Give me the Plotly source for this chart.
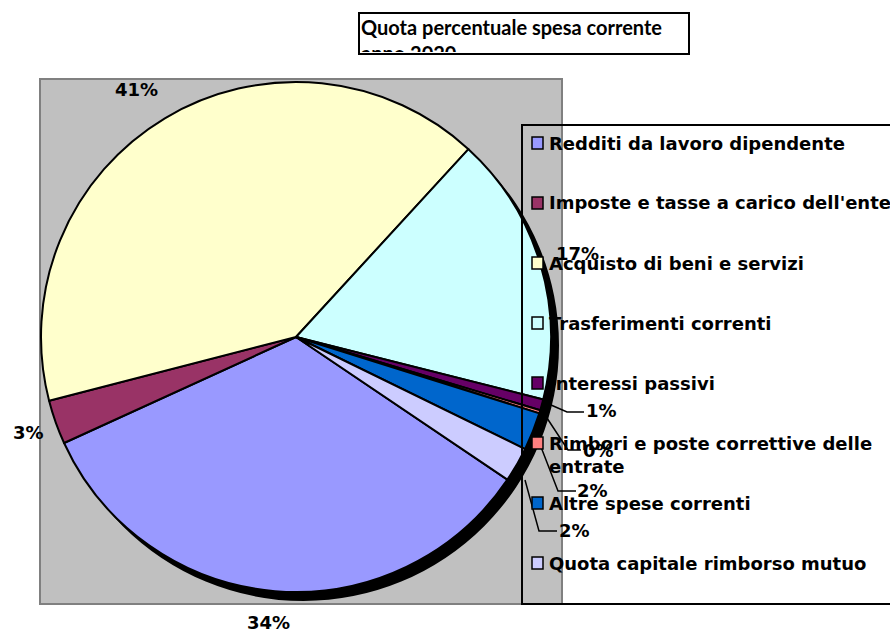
import plotly.graph_objects as go

labels = ["Redditi da lavoro dipendente", "Imposte e tasse a carico dell'ente",
          "Acquisto di beni e servizi", "Trasferimenti correnti", "Interessi passivi",
          "Rimbori e poste correttive delle entrate", "Altre spese correnti",
          "Quota capitale rimborso mutuo"]
legend_text = ["Redditi da lavoro dipendente", "Imposte e tasse a carico dell'ente",
               "Acquisto di beni e servizi", "Trasferimenti correnti", "Interessi passivi",
               "Rimbori e poste correttive delle<br>entrate", "Altre spese correnti",
               "Quota capitale rimborso mutuo"]
values = [33.7, 2.8, 40.8, 17.1, 0.7, 0.2, 2.4, 2.2]
colors = ["#9999FF", "#993366", "#FFFFCC", "#CCFFFF", "#660066", "#FF8080", "#0066CC", "#CCCCFF"]
title_text = "Quota percentuale spesa corrente<br>anno 2020"

# ---- layout helpers ----
W, H = 890, 632
def px(x):
    return x / W
def py(y):
    return 1 - y / H

FONT = "DejaVu Sans, Arial, sans-serif"

# data-label placement (pixel centres) and leader-line elbows (None = no line)
label_pos = [(268, 622), (28, 432), (136, 90), (577, 254), (601, 410), (598, 450), (592, 490), (574, 530)]
leaders = [None, None, None, None,
           [(551, 405), (567, 412), (584, 412)],
           [(543, 412), (568, 450), (581, 450)],
           [(541, 447), (558, 491), (576, 491)],
           [(525, 480), (539, 531), (557, 531)]]

fig = go.Figure()
fig.add_trace(go.Pie(
    labels=labels, values=values, sort=False, direction="clockwise", rotation=124,
    marker=dict(colors=colors, line=dict(color="black", width=2)),
    textinfo="none",
    domain=dict(x=[px(41), px(551)], y=[py(592), py(82)]),
    showlegend=False, hoverinfo="label+percent",
))

shapes = [
    dict(type="rect", xref="paper", yref="paper", x0=px(40), x1=px(562), y0=py(604), y1=py(79),
         fillcolor="#C0C0C0", line=dict(color="#808080", width=2), layer="below"),
    dict(type="circle", xref="paper", yref="paper", x0=px(48), x1=px(559), y0=py(601), y1=py(90),
         fillcolor="black", line=dict(color="black", width=0), layer="below"),
    dict(type="rect", xref="paper", yref="paper", x0=px(522), x1=px(1000), y0=py(604), y1=py(125),
         fillcolor="rgba(0,0,0,0)", line=dict(color="black", width=2), layer="above"),
]
annotations = [
    dict(xref="paper", yref="paper", x=px(358), y=py(12), xanchor="left", yanchor="top",
         text="<b>" + title_text + "</b>", showarrow=False, align="left", valign="top",
         width=326, height=37, borderpad=1, borderwidth=2, bordercolor="black", bgcolor="white",
         font=dict(family="Lato, sans-serif", size=20, color="black")),
]

total = sum(values)
for v, (lx, ly), ld in zip(values, label_pos, leaders):
    pct = "%d%%" % round(v / total * 100)
    annotations.append(dict(xref="paper", yref="paper", x=px(lx), y=py(ly), xanchor="center",
                            yanchor="middle", text="<b>" + pct + "</b>", showarrow=False,
                            font=dict(family=FONT, size=18, color="black")))
    if ld:
        path = "M " + " L ".join("%f,%f" % (px(a), py(b)) for a, b in ld)
        shapes.append(dict(type="path", xref="paper", yref="paper", path=path,
                           line=dict(color="black", width=1.5), layer="above"))

for i, (t, c) in enumerate(zip(legend_text, colors)):
    yc = 143 + 60 * i
    shapes.append(dict(type="rect", xref="paper", yref="paper", x0=px(532), x1=px(543),
                       y0=py(yc + 6), y1=py(yc - 6), fillcolor=c,
                       line=dict(color="black", width=1.5), layer="above"))
    annotations.append(dict(xref="paper", yref="paper", x=px(547), y=py(yc - 12.5),
                            xanchor="left", yanchor="top", text="<b>" + t + "</b>",
                            showarrow=False, align="left",
                            font=dict(family=FONT, size=18, color="black")))

fig.update_layout(width=W, height=H, margin=dict(l=0, r=0, t=0, b=0),
                  paper_bgcolor="white", plot_bgcolor="white",
                  shapes=shapes, annotations=annotations)
fig.write_html("out.html", config={"displayModeBar": False},
               post_script="document.body.style.margin='0';document.body.style.overflow='hidden';")
